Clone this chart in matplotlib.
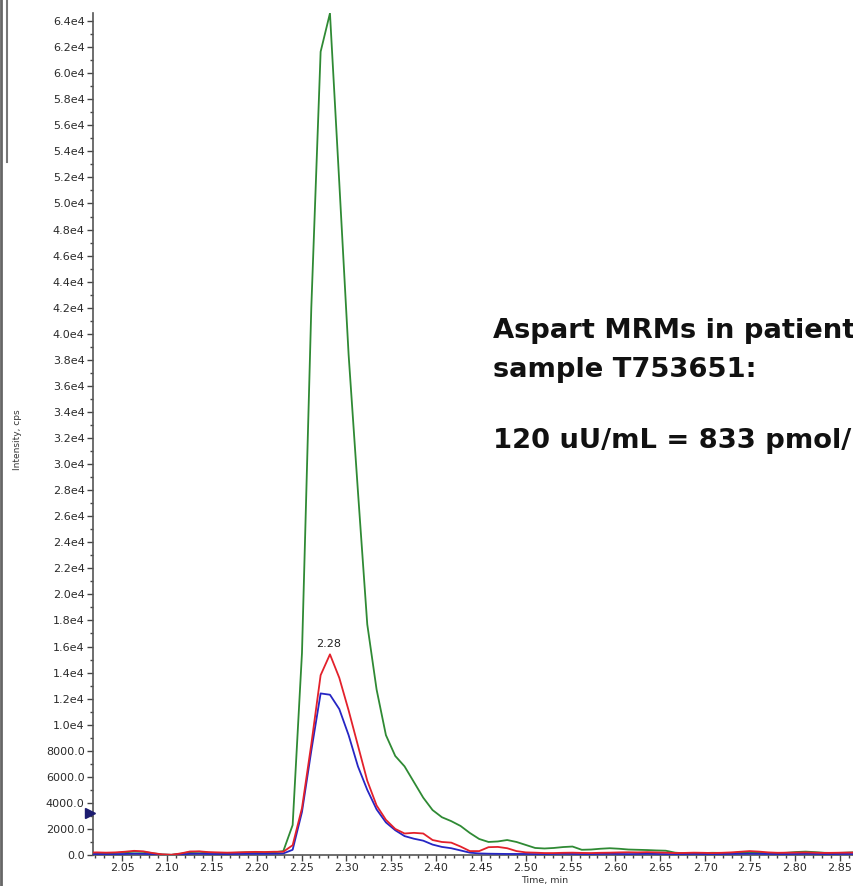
import numpy as np
import matplotlib.pyplot as plt
from matplotlib.ticker import MultipleLocator, FuncFormatter
from matplotlib import transforms
from matplotlib.lines import Line2D

# retention time (min), one scan every ~0.0104 min
time_min = [2.0113, 2.0217, 2.0321, 2.0425, 2.0529, 2.0633, 2.0737, 2.0841, 2.0945, 2.1049,
            2.1153, 2.1257, 2.1361, 2.1465, 2.1569, 2.1673, 2.1777, 2.1881, 2.1985, 2.2089,
            2.2193, 2.2297, 2.2401, 2.2505, 2.2609, 2.2713, 2.2817, 2.2921, 2.3025, 2.3129,
            2.3233, 2.3337, 2.3441, 2.3545, 2.3649, 2.3753, 2.3857, 2.3961, 2.4065, 2.4169,
            2.4273, 2.4377, 2.4481, 2.4585, 2.4689, 2.4793, 2.4897, 2.5001, 2.5105, 2.5209,
            2.5313, 2.5417, 2.5521, 2.5625, 2.5729, 2.5833, 2.5937, 2.6041, 2.6145, 2.6249,
            2.6353, 2.6457, 2.6561, 2.6665, 2.6769, 2.6873, 2.6977, 2.7081, 2.7185, 2.7289,
            2.7393, 2.7497, 2.7601, 2.7705, 2.7809, 2.7913, 2.8017, 2.8121, 2.8225, 2.8329,
            2.8433, 2.8537, 2.8641, 2.8745]

# MRM traces, intensity in cps
green_cps = [120, 130, 120, 150, 200, 260, 240, 130, 40, 10,
             100, 220, 250, 180, 150, 150, 170, 200, 200, 190,
             200, 300, 2300, 15500, 42000, 61650, 64600, 51600, 38400, 27900,
             17700, 12700, 9200, 7600, 6800, 5600, 4400, 3450, 2900, 2600,
             2230, 1690, 1230, 1000, 1040, 1150, 1000, 770, 540, 500,
             540, 610, 650, 400, 420, 480, 520, 480, 420, 400,
             380, 350, 330, 180, 130, 120, 150, 170, 160, 140,
             200, 230, 180, 150, 140, 170, 230, 260, 220, 170,
             150, 170, 200, 180]
red_cps = [180, 200, 180, 200, 250, 320, 280, 150, 50, 20,
           120, 270, 280, 220, 200, 180, 200, 220, 240, 230,
           250, 250, 750, 3600, 8500, 13800, 15400, 13600, 11100, 8400,
           5700, 3800, 2700, 2000, 1650, 1700, 1650, 1150, 1000, 950,
           650, 300, 300, 600, 620, 520, 300, 200, 180, 150,
           150, 170, 180, 160, 150, 170, 180, 200, 210, 200,
           220, 200, 180, 150, 160, 180, 170, 150, 170, 200,
           250, 300, 260, 200, 170, 180, 190, 200, 180, 160,
           170, 180, 190, 180]
blue_cps = [60, 70, 60, 60, 80, 100, 90, 60, 20, 10,
            40, 90, 100, 80, 70, 70, 80, 90, 90, 90,
            100, 120, 400, 3300, 8000, 12400, 12300, 11200, 9200, 6800,
            5000, 3500, 2500, 1900, 1450, 1250, 1100, 800, 620, 520,
            350, 180, 120, 100, 90, 80, 80, 80, 70, 70,
            80, 90, 80, 70, 70, 80, 90, 80, 70, 80,
            90, 80, 70, 60, 70, 80, 70, 60, 70, 80,
            90, 100, 90, 80, 70, 70, 80, 90, 80, 70,
            70, 80, 80, 70]

apex_time = 2.28
apex_cps = 15400
marker_cps = 3200

W, H = 854, 886
fig = plt.figure(figsize=(W / 100, H / 100), dpi=100)
ax = fig.add_axes([93 / W, 31 / H, 1 - 93 / W, 842 / H])

ax.plot(time_min, green_cps, color='#2f8a34', lw=1.3, zorder=3)
ax.plot(time_min, blue_cps, color='#2626c4', lw=1.3, zorder=4)
ax.plot(time_min, red_cps, color='#e3212b', lw=1.3, zorder=5)

ax.set_xlim(2.0175, 2.866)
ax.set_ylim(0, 64620)

ax.text(apex_time, apex_cps + 400, '%.2f' % apex_time, ha='center', va='bottom',
        fontsize=8, color='#222222')

# small marker on the y axis
off = transforms.offset_copy(ax.transData, fig=fig, x=-3, y=0, units='dots')
ax.plot([2.0175], [marker_cps], marker='>', markersize=7, color='#1c1c70',
        transform=off, clip_on=False, zorder=6)

def ylab(v, pos):
    if v < 1e4:
        return '%.1f' % v
    return '%.1fe4' % (v / 1e4)

ax.yaxis.set_major_locator(MultipleLocator(2000))
ax.yaxis.set_minor_locator(MultipleLocator(1000))
ax.yaxis.set_major_formatter(FuncFormatter(ylab))
ax.xaxis.set_major_locator(MultipleLocator(0.05))
ax.xaxis.set_minor_locator(MultipleLocator(0.01))
ax.xaxis.set_major_formatter(FuncFormatter(lambda v, p: '%.2f' % v))

ax.tick_params(axis='both', which='major', length=4, width=1, color='#444444',
               labelsize=8, labelcolor='#2a2a2a', pad=2)
ax.tick_params(axis='x', which='major', pad=1.5)
ax.tick_params(axis='both', which='minor', length=2.5, width=1, color='#444444')
for s in ['top', 'right']:
    ax.spines[s].set_visible(False)
for s in ['left', 'bottom']:
    ax.spines[s].set_color('#555555')
    ax.spines[s].set_linewidth(1.2)

fig.text(17 / W, 1 - 440 / H, 'Intensity, cps', rotation=90, ha='center', va='center',
         fontsize=6.5, color='#333333')
fig.text(545 / W, 1 - 881 / H, 'Time, min', ha='center', va='center',
         fontsize=6.8, color='#333333')

note = dict(fontsize=19.7, fontweight='bold', color='#111111', ha='left', va='center',
            family='DejaVu Sans')
fig.text(493 / W, 1 - 331 / H, 'Aspart MRMs in patient', **note)
fig.text(493 / W, 1 - 370 / H, 'sample T753651:', **note)
fig.text(493 / W, 1 - 441 / H, '120 uU/mL = 833 pmol/L', **note)

# window frame lines at the left edge
fig.add_artist(Line2D([1 / W, 1 / W], [0, 1], color='#666666', lw=2))
fig.add_artist(Line2D([7 / W, 7 / W], [1, 1 - 162 / H], color='#777777', lw=1.5))

fig.savefig('out.png', dpi=100)
